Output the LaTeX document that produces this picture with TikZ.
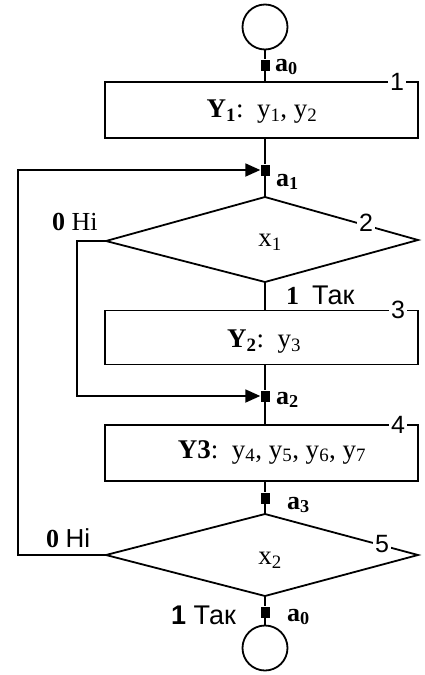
\documentclass[tikz,border=0pt]{standalone}
\usepackage{fontspec}
\setmainfont{Liberation Serif}
\setsansfont{Liberation Sans}
\usetikzlibrary{arrows.meta}

\newcommand{\sbs}[1]{\textsubscript{#1}}
\newcommand{\fsz}[1]{\fontsize{#1}{#1}\selectfont}

\tikzset{
  flow/.style={line width=1.8pt},
  opbox/.style={flow, draw, rectangle, minimum width=313pt, inner sep=0pt},
  term/.style={flow, draw, circle, minimum size=45pt, inner sep=0pt},
  marker/.style={fill=black, minimum width=9pt, minimum height=11pt, inner sep=0pt},
  tagnum/.style={fill=white, inner sep=2.5pt, font=\sffamily\fsz{25}},
  boxtext/.style={font=\fsz{27}, inner sep=0pt},
  statelbl/.style={font=\bfseries\fsz{26}, anchor=west, inner sep=0pt},
  branch/.style={font=\fsz{26}, inner sep=0pt},
  back/.style={flow, -{Triangle[length=15pt,width=13pt]}}
}

\begin{document}
\begin{tikzpicture}[x=1pt,y=-1pt]
  \useasboundingbox (0,0) rectangle (424,675);

  % start and end
  \node[term] (s0) at (265,27) {};
  \node[term] (s1) at (265,648) {};

  % state marks
  \node[marker] (m0) at (265,65) {};
  \node[marker] (m1) at (265,170) {};
  \node[marker] (m2) at (265,396) {};
  \node[marker] (m3) at (265,498) {};
  \node[marker] (m4) at (265,612) {};

  % operator boxes
  \node[opbox, minimum height=56pt] (b1) at (261.5,110) {};
  \node[opbox, minimum height=54pt] (b2) at (261.5,337.5) {};
  \node[opbox, minimum height=56pt] (b3) at (261.5,453) {};
  \node[boxtext] (t1) at (262,112) {\textbf{Y\sbs{1}}:\ \ y\sbs{1}, y\sbs{2}};
  \node[boxtext] (t2) at (264,342) {\textbf{Y\sbs{2}}:\ \ y\sbs{3}};
  \node[boxtext] (t3) at (272,452) {\textbf{Y3}:\ \ y\sbs{4}, y\sbs{5}, y\sbs{6}, y\sbs{7}};

  % conditions
  \coordinate (d1t) at (265,197);
  \coordinate (d1r) at (418,240);
  \coordinate (d1b) at (265,282);
  \coordinate (d1l) at (106,241);
  \coordinate (d2t) at (265,514);
  \coordinate (d2r) at (418,555);
  \coordinate (d2b) at (265,596);
  \coordinate (d2l) at (106,555);
  \draw[flow, line join=miter] (d1t) -- (d1r) -- (d1b) -- (d1l) -- cycle;
  \draw[flow, line join=miter] (d2t) -- (d2r) -- (d2b) -- (d2l) -- cycle;
  \node[boxtext] (x1) at (270,242) {x\sbs{1}};
  \node[boxtext] (x2) at (270,560) {x\sbs{2}};

  % flow lines
  \draw[flow] (s0) -- (m0) -- (m0 |- b1.north);
  \draw[flow] (m1 |- b1.south) -- (m1) -- (d1t);
  \draw[flow] (d1b) -- (d1b |- b2.north);
  \draw[flow] (m2 |- b2.south) -- (m2) -- (m2 |- b3.north);
  \draw[flow] (m3 |- b3.south) -- (m3) -- (d2t);
  \draw[flow] (d2b) -- (m4) -- (s1);
  \draw[back] (d1l) -- ++(-29,0) |- (m2.west);
  \draw[back] (d2l) -- ++(-88,0) |- (m1.west);

  % numbers
  \node[tagnum] (n1) at (397,82) {1};
  \node[tagnum] (n2) at (366,223) {2};
  \node[tagnum] (n3) at (398,310) {3};
  \node[tagnum] (n4) at (398,425) {4};
  \node[tagnum] (n5) at (382,544) {5};

  % state labels
  \node[statelbl] (l0) at (275,67) {a\sbs{0}};
  \node[statelbl] (l1) at (276,182) {a\sbs{1}};
  \node[statelbl] (l2) at (276,400) {a\sbs{2}};
  \node[statelbl] (l3) at (287,505) {a\sbs{3}};
  \node[statelbl] (l4) at (287,617) {a\sbs{0}};

  % branch labels
  \node[branch, anchor=west] (y1) at (286,295) {\textbf{1}\ \ \sffamily\fsz{27}Так};
  \node[branch, anchor=east] (y2) at (236,615) {\sffamily\fsz{27}\textbf{1} Так};
  \node[branch, anchor=west] (h1) at (52,222) {\textbf{0}\ Ні};
  \node[branch, anchor=west] (h2) at (46,538) {\textbf{0}\ \sffamily Ні};
\end{tikzpicture}
\end{document}
